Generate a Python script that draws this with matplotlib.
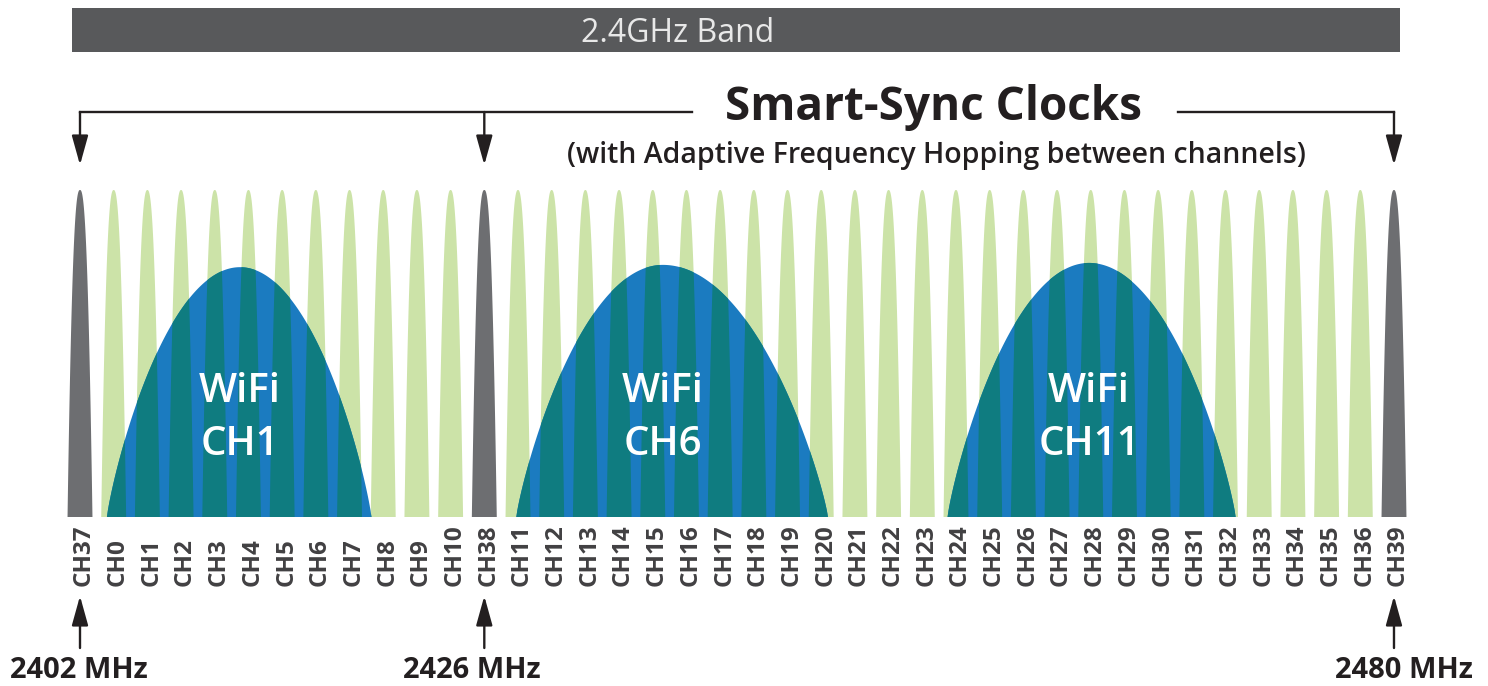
import numpy as np
import matplotlib.pyplot as plt
from matplotlib.patches import Polygon, Rectangle, FancyArrowPatch

plt.rcParams['font.family'] = ['Open Sans', 'DejaVu Sans']

# BLE channels, left to right, with centre frequency in MHz
channel_names = ["CH37", "CH0", "CH1", "CH2", "CH3", "CH4", "CH5", "CH6", "CH7", "CH8",
                 "CH9", "CH10", "CH38", "CH11", "CH12", "CH13", "CH14", "CH15", "CH16",
                 "CH17", "CH18", "CH19", "CH20", "CH21", "CH22", "CH23", "CH24", "CH25",
                 "CH26", "CH27", "CH28", "CH29", "CH30", "CH31", "CH32", "CH33", "CH34",
                 "CH35", "CH36", "CH39"]
channel_freqs = [2402, 2404, 2406, 2408, 2410, 2412, 2414, 2416, 2418, 2420,
                 2422, 2424, 2426, 2428, 2430, 2432, 2434, 2436, 2438, 2440,
                 2442, 2444, 2446, 2448, 2450, 2452, 2454, 2456, 2458, 2460,
                 2462, 2464, 2466, 2468, 2470, 2472, 2474, 2476, 2478, 2480]
advertising = ["CH37", "CH38", "CH39"]

# WiFi channel humps (MHz, relative height)
wifi_names = ["CH1", "CH6", "CH11"]
wifi_left = [2403.6, 2427.9, 2453.5]
wifi_peak = [2411.5, 2436.6, 2461.9]
wifi_right = [2419.3, 2446.4, 2470.6]
wifi_height = [0.764, 0.771, 0.777]

SPIKE_HW = 0.74  # half width of a BLE channel lobe, MHz

GREEN = "#cce3a8"
GREY = "#6d6e71"
BLUE = "#1b7bc0"
TEAL = "#0f7c80"
INK = "#231f20"

# pixel layout of the picture
W, H = 1488, 686
X0_PX, PX_PER_MHZ = 80, 16.846
BASE_PY, AMP_PX = 517, 327


def px(p):
    return channel_freqs[0] + (p - X0_PX) / PX_PER_MHZ


def py(p):
    return (BASE_PY - p) / AMP_PX


fig = plt.figure(figsize=(W / 100, H / 100), dpi=100)
ax = fig.add_axes([0, 0, 1, 1])
ax.set_xlim(px(0), px(W))
ax.set_ylim(py(H), py(0))
ax.axis("off")

u = np.linspace(-1, 1, 121)
lobe = 1 - np.abs(u) ** 2.5


def lobe_xy(f):
    return np.column_stack([f + u * SPIKE_HW, lobe])


# BLE lobes
for name, f in zip(channel_names, channel_freqs):
    c = GREY if name in advertising else GREEN
    ax.add_patch(Polygon(lobe_xy(f), closed=True, fc=c, ec="none", zorder=1))

# WiFi humps, lobes seen through them in teal
for name, l, pk, r, h in zip(wifi_names, wifi_left, wifi_peak, wifi_right, wifi_height):
    xs = np.linspace(l, r, 300)
    uu = np.where(xs < pk, (xs - pk) / (pk - l), (xs - pk) / (r - pk))
    ys = h * np.clip(1 - uu ** 2, 0, None) ** 0.85
    hump = Polygon(np.column_stack([xs, ys]), closed=True, fc=BLUE, ec="none", zorder=2)
    ax.add_patch(hump)
    for cname, f in zip(channel_names, channel_freqs):
        if l - SPIKE_HW < f < r + SPIKE_HW and cname not in advertising:
            p = Polygon(lobe_xy(f), closed=True, fc=TEAL, ec="none", zorder=3)
            ax.add_patch(p)
            p.set_clip_path(hump)
    ax.text(pk, py(402), "WiFi", ha="center", va="baseline", fontsize=29,
            fontweight="semibold", color="white", zorder=4)
    ax.text(pk, py(455), name, ha="center", va="baseline", fontsize=29,
            fontweight="semibold", color="white", zorder=4)

# channel labels
for name, f in zip(channel_names, channel_freqs):
    ax.text(f + 4 / PX_PER_MHZ, py(586), name, rotation=90, ha="center", va="bottom",
            fontsize=17.5, fontweight="bold", color="#414042")

# band bar
ax.add_patch(Rectangle((px(72), py(52)), px(1400) - px(72), py(8) - py(52),
                       fc="#58595b", ec="none"))
ax.text(px(678), py(42), "2.4GHz Band", ha="center", va="baseline", fontsize=23,
        color="#e8e8e8")

# Smart-Sync bracket
adv_f = [f for n, f in zip(channel_names, channel_freqs) if n in advertising]
ax.plot([adv_f[0], px(692)], [py(112)] * 2, color=INK, lw=1.7, solid_capstyle="projecting")
ax.plot([px(1178), adv_f[-1]], [py(112)] * 2, color=INK, lw=1.7, solid_capstyle="projecting")
for f in adv_f:
    ax.add_patch(FancyArrowPatch((f, py(112)), (f, py(165)),
                                 arrowstyle="-|>,head_length=1.8,head_width=0.5",
                                 mutation_scale=10, lw=1.7, color=INK,
                                 shrinkA=0, shrinkB=0))
ax.text(px(933), py(120), "Smart-Sync Clocks", ha="center", va="baseline",
        fontsize=33, fontweight="bold", color=INK)
ax.text(px(936), py(163), "(with Adaptive Frequency Hopping between channels)",
        ha="center", va="baseline", fontsize=20.5, fontweight="semibold", color=INK)

# frequency markers at the bottom
label_shift = [-1, -12, 10]
for f, dx in zip(adv_f, label_shift):
    ax.add_patch(FancyArrowPatch((f, py(648)), (f, py(596)),
                                 arrowstyle="-|>,head_length=1.8,head_width=0.5",
                                 mutation_scale=10, lw=1.7, color=INK,
                                 shrinkA=0, shrinkB=0))
    ax.text(f + dx / PX_PER_MHZ, py(678), f"{f} MHz", ha="center", va="baseline",
            fontsize=21, fontweight="bold", color=INK)

fig.savefig("out.png", dpi=100, facecolor="white")
